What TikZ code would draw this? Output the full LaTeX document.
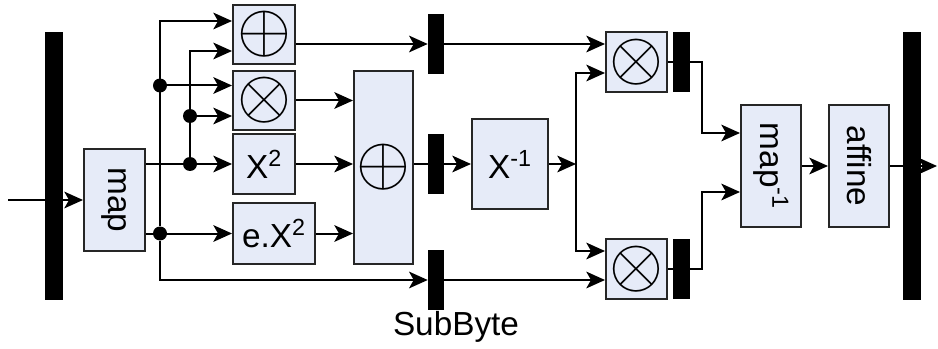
\documentclass[tikz,border=0pt]{standalone}
\usepackage{fontspec}
\setmainfont{Liberation Sans}
\usepackage{graphicx}
\usepackage{tikz}
\usetikzlibrary{arrows.meta, positioning, calc}
\definecolor{boxfill}{RGB}{230,235,248}
\tikzstyle{block} = [rectangle, draw=black!85, fill=boxfill, line width=1.5pt, inner sep=0pt, align=center]
\tikzstyle{reg} = [rectangle, fill=black, inner sep=0pt, minimum width=12pt, minimum height=45pt]
\tikzstyle{busbar} = [rectangle, fill=black, inner sep=0pt, minimum width=13pt, minimum height=201pt]
\tikzstyle{dot} = [circle, fill=black, inner sep=0pt, minimum size=10.5pt]
\tikzstyle{arrow} = [line width=1.5pt, -{Stealth[length=14pt, width=12.5pt, inset=3.5pt]}]
\tikzstyle{wire} = [line width=1.5pt]
\newcommand{\opsym}[1]{{\normalsize\scalebox{5.2}{$#1$}}}

\begin{document}
\begin{tikzpicture}[x=0.75pt, y=-0.75pt, every node/.style={font=\fontsize{25}{28}\selectfont}]
      \useasboundingbox (0,0) rectangle (938,349);
      % input / output registers
      \node[busbar] (inreg) at (54,166) {};
      \node[busbar] (outreg) at (912,166) {};

      \node[block, minimum width=45.75pt, minimum height=76.5pt] (map) at (114.5,200) {\rotatebox{-90}{map}};
      \node[block, minimum width=46.5pt, minimum height=44.25pt] (xorA) at (264,34.5) {\opsym{\oplus}};
      \node[block, minimum width=46.5pt, minimum height=44.25pt] (mulA) at (264,100.5) {\opsym{\otimes}};
      \node[block, minimum width=46.5pt, minimum height=44.25pt] (sq) at (264,164) {X\textsuperscript{2}};
      \node[block, minimum width=61.5pt, minimum height=45.75pt] (ex2) at (274,233.5) {e.X\textsuperscript{2}};
      \node[block, minimum width=44.25pt, minimum height=144.75pt] (bxor) at (383.5,167.5) {\opsym{\oplus}};

      % pipeline registers
      \node[reg] (regA) at (436,44) {};
      \node[reg] (regB) at (436,164) {};
      \node[reg] (regC) at (436,280) {};
      \node (sublbl) at (456,327) {SubByte};

      \node[block, minimum width=57pt, minimum height=67.5pt] (inv) at (510,164) {X\textsuperscript{-1}};
      \node[block, minimum width=45.75pt, minimum height=45pt] (mulB) at (636.5,62) {\opsym{\otimes}};
      \node[block, minimum width=45.75pt, minimum height=45pt] (mulC) at (636.5,269) {\opsym{\otimes}};
      \node[reg, minimum width=12.75pt] (regD) at (681.5,62) {};
      \node[reg, minimum width=12.75pt] (regE) at (681.5,269) {};
      \node[block, minimum width=45pt, minimum height=90.75pt] (mapinv) at (771,166) {\rotatebox{-90}{map\textsuperscript{-1}}};
      \node[block, minimum width=45pt, minimum height=90.75pt] (aff) at (859,166) {\rotatebox{-90}{affine}};

      % branch points
      \node[dot] (d11) at (160,85.5) {};
      \node[dot] (d12) at (160,233.5) {};
      \node[dot] (d21) at (190,116) {};
      \node[dot] (d22) at (190,164) {};
      \coordinate (in) at (8,200);
      \coordinate (out) at (937,166);
      \coordinate (jn) at (576,164);
      \coordinate (kA) at (702,62);
      \coordinate (kB) at (702,269);

      \draw[arrow] (in) -- (map);
      \draw[arrow] (map.east |- sq) -- (sq);
      \draw[arrow] (map.east |- ex2) -- (ex2);
      \draw[arrow] (d12) |- ($(xorA.west)+(0,-13.5)$);
      \draw[arrow] (d12) |- (regC);
      \draw[arrow] (d11) -- (d11 -| mulA.west);
      \draw[arrow] (d22) |- ($(xorA.west)+(0,16.5)$);
      \draw[arrow] (d21) -- (d21 -| mulA.west);
      \draw[arrow] (mulA) -- (mulA -| bxor.west);
      \draw[arrow] (sq) -- (sq -| bxor.west);
      \draw[arrow] (ex2) -- (ex2 -| bxor.west);
      \draw[arrow] (xorA.east |- regA) -- (regA);
      \draw[arrow] (regA.east) -- (regA.east -| mulB.west);
      \draw[arrow] (regC.east) -- (regC.east -| mulC.west);
      \draw[arrow] (bxor.east |- regB) -- (inv);
      \draw[arrow] (inv) -- (jn);
      \draw[arrow] (jn) |- ($(mulB.west)+(0,11)$);
      \draw[arrow] (jn) |- ($(mulC.west)+(0,-18)$);
      \draw[arrow] (mulB.east) -- (kA) |- ($(mapinv.west)+(0,-33)$);
      \draw[arrow] (mulC.east) -- (kB) |- ($(mapinv.west)+(0,26)$);
      \draw[arrow] (mapinv) -- (aff);
      \draw[arrow] (aff) -- (out);
    \end{tikzpicture}
\end{document}
